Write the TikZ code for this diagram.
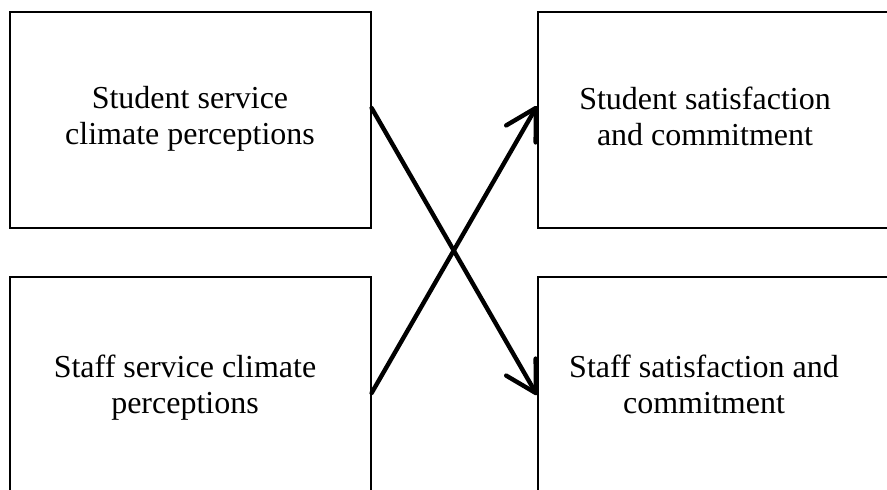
\documentclass[tikz,border=0pt]{standalone}
\usepackage{fontspec}
\setmainfont{Liberation Serif}
\usetikzlibrary{arrows.meta,calc}

\begin{document}
\begin{tikzpicture}[
    x=0.5pt, y=-0.5pt, % work in page pixels, y pointing down
    >={Straight Barb[length=15pt, width=17pt, round]}, % Open arrow tip
    box/.style={draw, line width=0.8pt, inner sep=0pt, anchor=north west},
    boxtext/.style={align=center, font=\fontsize{16}{18}\selectfont, anchor=base} % base = last line
]

    % Page area, boxes on the right and at the bottom run off it
    \useasboundingbox (0,0) rectangle (887,489);
    \clip (0,0) rectangle (887,489);

    % Boxes
    \node[box, minimum width=180.5pt, minimum height=108pt] (stuclim) at (9,11) {};
    \node[box, minimum width=200pt, minimum height=108pt] (stusat) at (537,11) {};
    \node[box, minimum width=180.5pt, minimum height=140pt] (stfclim) at (9,276) {};
    \node[box, minimum width=200pt, minimum height=140pt] (stfsat) at (537,276) {};

    % Texts
    \node[boxtext] (stuclimtext) at (190,144) {Student service\\climate perceptions};
    \node[boxtext] (stusattext) at (705,145) {Student satisfaction\\and commitment};
    \node[boxtext] (stfclimtext) at (185,413) {Staff service climate\\perceptions};
    \node[boxtext] (stfsattext) at (704,413) {Staff satisfaction and\\commitment};

    % Arrow ends on the box sides
    \coordinate (stuout) at ($(stuclim.north east)+(0,97)$);
    \coordinate (stfin) at ($(stfsat.north west)+(0,119)$);
    \coordinate (stfout) at ($(stfclim.north east)+(0,117)$);
    \coordinate (stuin) at ($(stusat.north west)+(0,95)$);

    % Crossing arrows
    \draw[->, line width=2.2pt, line cap=round] (stuout) -- (stfin);
    \draw[->, line width=2.2pt, line cap=round] (stfout) -- (stuin);

\end{tikzpicture}
\end{document}
